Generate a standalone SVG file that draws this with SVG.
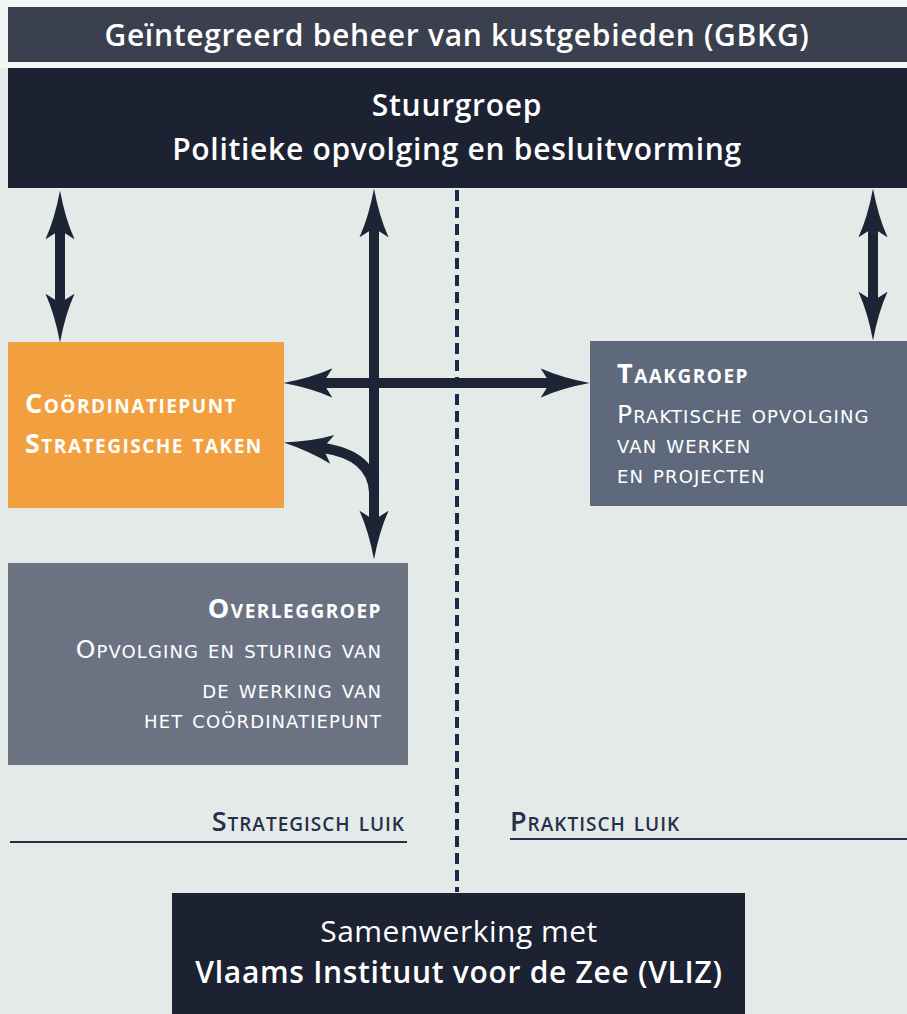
<svg xmlns="http://www.w3.org/2000/svg" width="907" height="1014" viewBox="0 0 907 1014">
  <style>
    .t { font-family: "Open Sans", "Liberation Sans", sans-serif; fill: #ffffff; }
    .hd { font-weight: 600; font-size: 30px; letter-spacing: 0.7px; }
    .scb { font-variant: small-caps; font-weight: 700; font-size: 27px; letter-spacing: 1.5px; }
    .scr { font-family: "DejaVu Sans", "Liberation Sans", sans-serif; font-variant: small-caps; font-weight: 400; font-size: 25px; letter-spacing: 1.1px; }
    .luik { font-family: "Open Sans", "Liberation Sans", sans-serif; font-variant: small-caps; font-weight: 600; font-size: 27px; letter-spacing: 1px; fill: #26304a; }
    .arr { fill: none; stroke: #1c2436; stroke-width: 10; }
  </style>
  <defs>
    <marker id="head" markerUnits="userSpaceOnUse" markerWidth="50" markerHeight="32" viewBox="0 0 48 28" refX="9" refY="14" orient="auto-start-reverse">
      <path d="M0,0 Q20,9 47,14 Q20,19 0,28 L9,14 Z" fill="#1c2436"/>
    </marker>
  </defs>

  <rect x="0" y="0" width="907" height="1014" fill="#e4eae8"/>
  <rect x="0" y="0" width="907" height="68" fill="#f4f6f5"/>

  <g id="title">
    <rect x="8" y="7" width="899" height="55" fill="#3b404f"/>
    <text class="t hd" x="457" y="46" text-anchor="middle">Geïntegreerd beheer van kustgebieden (GBKG)</text>
  </g>

  <g id="stuurgroep">
    <rect x="8" y="68" width="899" height="120" fill="#1c2232"/>
    <text class="t hd" x="457" y="116" text-anchor="middle">Stuurgroep</text>
    <text class="t hd" x="457" y="160" text-anchor="middle">Politieke opvolging en besluitvorming</text>
  </g>

  <g id="divider">
    <line x1="457" y1="190" x2="457" y2="892" stroke="#1c2a4a" stroke-width="4" stroke-dasharray="11,6"/>
  </g>

  <g id="coordinatiepunt">
    <rect x="8" y="342" width="276" height="166" fill="#f2a03f"/>
    <text class="t scb" x="25" y="413">Coördinatiepunt</text>
    <text class="t scb" x="25" y="453">Strategische taken</text>
  </g>

  <g id="taakgroep">
    <rect x="590" y="341" width="317" height="165" fill="#5e6a7c"/>
    <text class="t scb" x="617" y="383">Taakgroep</text>
    <text class="t scr" x="617" y="423">Praktische opvolging</text>
    <text class="t scr" x="617" y="453">van werken</text>
    <text class="t scr" x="617" y="483">en projecten</text>
  </g>

  <g id="overleggroep">
    <rect x="8" y="563" width="400" height="202" fill="#6b7383"/>
    <text class="t scb" x="382" y="618" text-anchor="end">Overleggroep</text>
    <text class="t scr" x="382" y="658" text-anchor="end">Opvolging en sturing van</text>
    <text class="t scr" x="382" y="698" text-anchor="end">de werking van</text>
    <text class="t scr" x="382" y="728" text-anchor="end">het coördinatiepunt</text>
  </g>

  <g id="strategisch-luik">
    <text class="luik" x="405" y="831" text-anchor="end">Strategisch luik</text>
    <line x1="10" y1="842" x2="407" y2="842" stroke="#26304a" stroke-width="2"/>
  </g>

  <g id="praktisch-luik">
    <text class="luik" x="510" y="831">Praktisch luik</text>
    <line x1="510" y1="839" x2="907" y2="839" stroke="#26304a" stroke-width="2"/>
  </g>

  <g id="vliz">
    <rect x="172" y="893" width="573" height="121" fill="#1c2232"/>
    <text class="t" x="459" y="942" text-anchor="middle" font-size="30" font-weight="400" letter-spacing="0.5">Samenwerking met</text>
    <text class="t hd" x="459" y="983" text-anchor="middle">Vlaams Instituut voor de Zee (VLIZ)</text>
  </g>

  <g id="connectors">
    <line class="arr" x1="60" y1="230" x2="60" y2="303" marker-start="url(#head)" marker-end="url(#head)"/>
    <line class="arr" x1="374" y1="228" x2="374" y2="520" marker-start="url(#head)" marker-end="url(#head)"/>
    <line class="arr" x1="873" y1="228" x2="873" y2="301" marker-start="url(#head)" marker-end="url(#head)"/>
    <line class="arr" x1="323" y1="383" x2="550" y2="383" marker-start="url(#head)" marker-end="url(#head)"/>
    <path class="arr" d="M374,492 Q372,455 323,448" marker-end="url(#head)"/>
  </g>
</svg>
